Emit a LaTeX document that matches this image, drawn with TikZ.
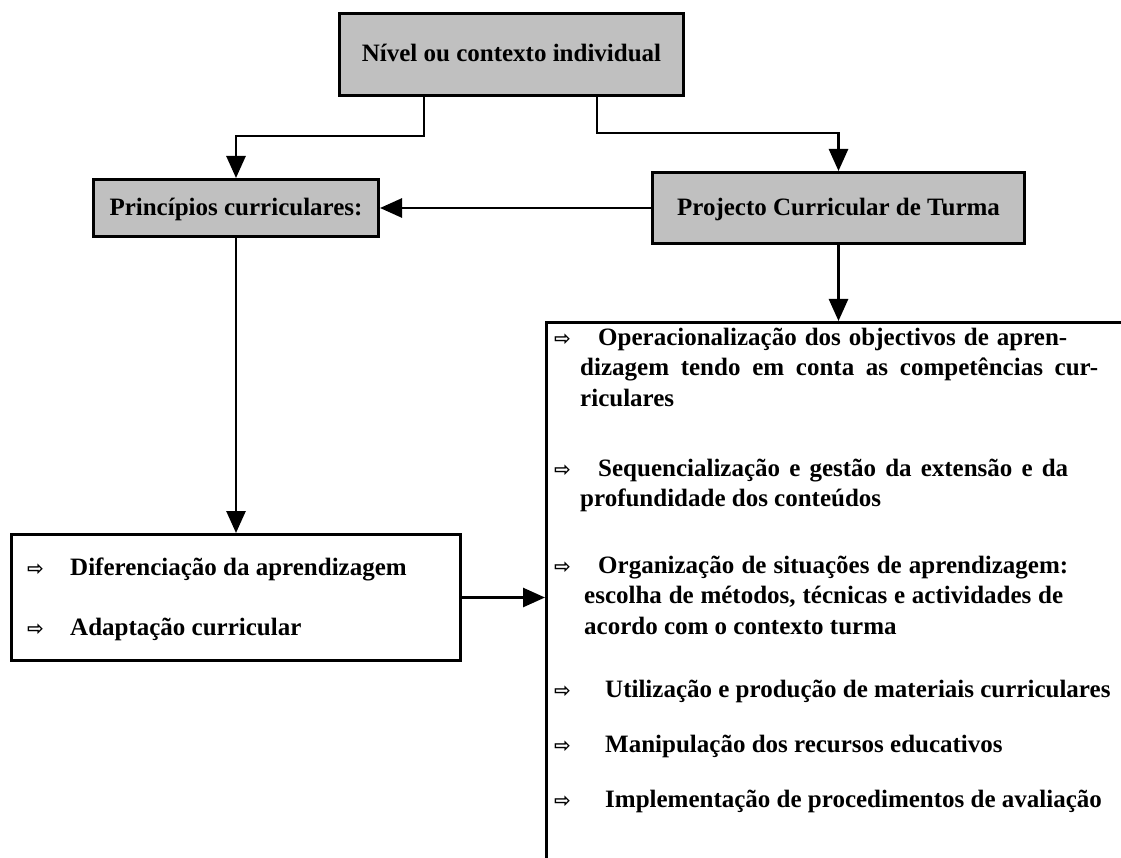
\documentclass[tikz,border=0pt]{standalone}
\usepackage{fontspec}
\setmainfont{Liberation Serif}
\newfontfamily\symfont{DejaVu Sans}
\usetikzlibrary{arrows.meta,calc}
\definecolor{boxgray}{HTML}{C0C0C0}
\newcommand{\just}[2]{\makebox[#1pt][s]{#2}}
\begin{document}
\begin{tikzpicture}[x=1pt,y=-1pt,
  hdr/.style={draw, line width=3pt, fill=boxgray, inner sep=0pt,
    font=\fontsize{25}{30}\selectfont\bfseries, text height=20pt, text depth=5pt},
  listbox/.style={draw, line width=3pt, fill=white, inner sep=0pt},
  arr/.style={line width=2.7pt, -{Triangle[length=22pt,width=19pt]}},
  itm/.style={anchor=base west, inner sep=0pt,
    font=\fontsize{25}{30}\selectfont\bfseries},
  bul/.style={anchor=base west, inner sep=0pt,
    font=\symfont\fontsize{20}{20}\selectfont\bfseries}]
\useasboundingbox (0,0) rectangle (1121,858);
\fill[white] (0,0) rectangle (1121,858);

% boxes
\node[hdr, minimum width=344pt, minimum height=82pt] (top) at (511.5,54.5) {Nível ou contexto individual};
\node[hdr, minimum width=285pt, minimum height=57pt] (princ) at (236,208) {Princípios curriculares:};
\node[hdr, minimum width=372pt, minimum height=71pt] (proj) at (838.5,208) {Projecto Curricular de Turma};
\node[listbox, minimum width=449pt, minimum height=126pt] (lbox) at (236,597.5) {};
\node[listbox, anchor=north west, minimum width=700pt, minimum height=650pt] (rbox) at (545,321) {};

% connectors
\coordinate (k1) at (424,136);
\coordinate (k2) at (597,133);
\draw[arr] (k1 |- top.south) -- (k1) -| (princ.north);
\draw[arr] (k2 |- top.south) -- (k2) -| (proj.north);
\draw[arr] (proj.west) -- (princ.east);
\draw[arr] (princ.south) -- (lbox.north);
\draw[arr] (proj.south) -- (proj.south |- rbox.north);
\draw[arr] (lbox.east) -- (lbox.east -| rbox.west);

% left list
\node[bul] (lb1) at (27,575) {⇨};
\node[itm] (l1) at (70,575) {Diferenciação da aprendizagem};
\node[bul] (lb2) at (27,635) {⇨};
\node[itm] (l2) at (70,635) {Adaptação curricular};

% right list
\node[bul] (rb1) at (554,345) {⇨};
\node[itm] (o1a) at (598,345) {\just{469}{Operacionalização dos objectivos de apren-}};
\node[itm] (o1b) at (580,375.5) {\just{518}{dizagem tendo em conta as competências cur-}};
\node[itm] (o1c) at (580,406) {riculares};

\node[bul] (rb2) at (554,476) {⇨};
\node[itm] (o2a) at (598,476) {\just{470}{Sequencialização e gestão da extensão e da}};
\node[itm] (o2b) at (580,506) {profundidade dos conteúdos};

\node[bul] (rb3) at (554,573) {⇨};
\node[itm] (o3a) at (598,573) {\just{470}{Organização de situações de aprendizagem:}};
\node[itm] (o3b) at (584,603.5) {\just{479}{escolha de métodos, técnicas e actividades de}};
\node[itm] (o3c) at (584,634) {acordo com o contexto turma};

\node[bul] (rb4) at (554,697) {⇨};
\node[itm] (o4) at (605,697) {Utilização e produção de materiais curriculares};
\node[bul] (rb5) at (554,752) {⇨};
\node[itm] (o5) at (605,752) {Manipulação dos recursos educativos};
\node[bul] (rb6) at (554,807) {⇨};
\node[itm] (o6) at (605,807) {Implementação de procedimentos de avaliação};
\end{tikzpicture}
\end{document}
